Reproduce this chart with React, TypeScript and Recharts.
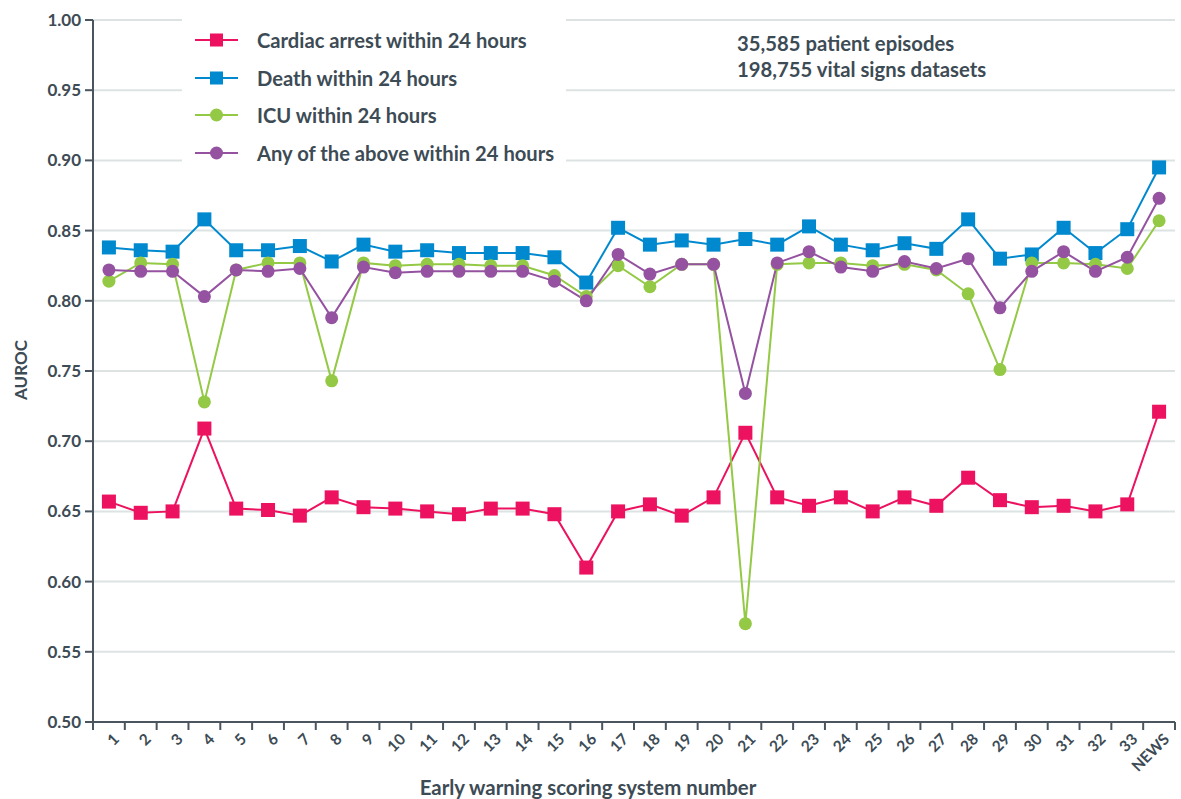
import React from "react";
import { CartesianGrid, Legend, Line, LineChart, XAxis, YAxis } from "recharts";

const categories = [
  "1", "2", "3", "4", "5", "6", "7", "8", "9", "10", "11", "12", "13", "14", "15", "16", "17",
  "18", "19", "20", "21", "22", "23", "24", "25", "26", "27", "28", "29", "30", "31", "32", "33", "NEWS",
];

const cardiacArrest = [
  0.657, 0.649, 0.650, 0.709, 0.652, 0.651, 0.647, 0.660, 0.653, 0.652, 0.650, 0.648, 0.652, 0.652, 0.648, 0.610, 0.650,
  0.655, 0.647, 0.660, 0.706, 0.660, 0.654, 0.660, 0.650, 0.660, 0.654, 0.674, 0.658, 0.653, 0.654, 0.650, 0.655, 0.721,
];

const death = [
  0.838, 0.836, 0.835, 0.858, 0.836, 0.836, 0.839, 0.828, 0.840, 0.835, 0.836, 0.834, 0.834, 0.834, 0.831, 0.813, 0.852,
  0.840, 0.843, 0.840, 0.844, 0.840, 0.853, 0.840, 0.836, 0.841, 0.837, 0.858, 0.830, 0.833, 0.852, 0.834, 0.851, 0.895,
];

const icu = [
  0.814, 0.827, 0.826, 0.728, 0.822, 0.827, 0.827, 0.743, 0.827, 0.825, 0.826, 0.826, 0.825, 0.825, 0.818, 0.803, 0.825,
  0.810, 0.826, 0.826, 0.570, 0.826, 0.827, 0.827, 0.825, 0.826, 0.822, 0.805, 0.751, 0.827, 0.827, 0.826, 0.823, 0.857,
];

const anyOfAbove = [
  0.822, 0.821, 0.821, 0.803, 0.822, 0.821, 0.823, 0.788, 0.824, 0.820, 0.821, 0.821, 0.821, 0.821, 0.814, 0.800, 0.833,
  0.819, 0.826, 0.826, 0.734, 0.827, 0.835, 0.824, 0.821, 0.828, 0.823, 0.830, 0.795, 0.821, 0.835, 0.821, 0.831, 0.873,
];

const yTicks = [0.5, 0.55, 0.6, 0.65, 0.7, 0.75, 0.8, 0.85, 0.9, 0.95, 1.0];

const data = categories.map((name, i) => ({
  name,
  cardiac: cardiacArrest[i],
  death: death[i],
  icu: icu[i],
  any: anyOfAbove[i],
}));

const PINK = "#ec125f";
const BLUE = "#0089cf";
const GREEN = "#94c946";
const PURPLE = "#9452a0";
const TEXT = "#3d4b55";
const AXIS = "#4a5560";
const GRID = "#dde3e3";
const FONT = "Lato, 'Open Sans', sans-serif";

const PLOT_LEFT = 93;
const PLOT_RIGHT = 1175;
const PLOT_BOTTOM = 722;
const STEP = (PLOT_RIGHT - PLOT_LEFT) / categories.length;

const series = [
  { key: "cardiac", name: "Cardiac arrest within 24 hours", color: PINK, shape: "square" },
  { key: "death", name: "Death within 24 hours", color: BLUE, shape: "square" },
  { key: "icu", name: "ICU within 24 hours", color: GREEN, shape: "circle" },
  { key: "any", name: "Any of the above within 24 hours", color: PURPLE, shape: "circle" },
];

function makeDot(color: string, shape: string) {
  return (props: any) => {
    const { cx, cy, index } = props;
    if (cx == null || cy == null) return <g key={index} />;
    if (shape === "square") {
      return <rect key={index} x={cx - 7} y={cy - 7} width={14} height={14} fill={color} />;
    }
    return <circle key={index} cx={cx} cy={cy} r={6.5} fill={color} />;
  };
}

function XTick(props: any) {
  const { x, payload, index } = props;
  const last = index === categories.length - 1;
  return (
    <g>
      <line x1={x - STEP / 2} x2={x - STEP / 2} y1={PLOT_BOTTOM} y2={PLOT_BOTTOM + 8} stroke={AXIS} strokeWidth={2} />
      {last && (
        <line x1={x + STEP / 2} x2={x + STEP / 2} y1={PLOT_BOTTOM} y2={PLOT_BOTTOM + 8} stroke={AXIS} strokeWidth={2} />
      )}
      <text
        transform={`translate(${x + 7},${PLOT_BOTTOM + 14}) rotate(-45)`}
        textAnchor="end"
        dominantBaseline="central"
        fontFamily={FONT}
        fontWeight={700}
        fontSize={15.5}
        fill={TEXT}
      >
        {payload.value}
      </text>
    </g>
  );
}

function LegendBox() {
  return (
    <div style={{ background: "#fff", width: 384, height: 150, paddingTop: 3, boxSizing: "border-box" }}>
      {series.map((s) => (
        <div key={s.key} style={{ display: "flex", alignItems: "center", height: 37.7 }}>
          <svg width={75} height={20} style={{ flex: "none" }}>
            <line x1={13} x2={56} y1={10} y2={10} stroke={s.color} strokeWidth={2} />
            {s.shape === "square" ? (
              <rect x={28} y={3.5} width={13} height={13} fill={s.color} />
            ) : (
              <circle cx={34.5} cy={10} r={6.5} fill={s.color} />
            )}
          </svg>
          <span style={{ fontFamily: FONT, fontWeight: 700, fontSize: 20.2, color: TEXT, whiteSpace: "nowrap" }}>
            {s.name}
          </span>
        </div>
      ))}
    </div>
  );
}

export default function App() {
  return (
    <div style={{ position: "absolute", left: 0, top: 0, width: 1181, height: 799, background: "#fff" }}>
      <LineChart width={1181} height={799} data={data} margin={{ top: 20, right: 6, left: 0, bottom: 0 }}>
        <CartesianGrid vertical={false} stroke={GRID} strokeWidth={2} />
        <XAxis
          dataKey="name"
          interval={0}
          height={77}
          padding={{ left: STEP / 2, right: STEP / 2 }}
          axisLine={{ stroke: AXIS, strokeWidth: 2 }}
          tickLine={false}
          tick={<XTick />}
        />
        <YAxis
          width={93}
          domain={[0.5, 1]}
          ticks={yTicks}
          interval={0}
          tickFormatter={(v: number) => v.toFixed(2)}
          axisLine={{ stroke: AXIS, strokeWidth: 2 }}
          tickLine={{ stroke: AXIS, strokeWidth: 2 }}
          tickSize={8}
          tickMargin={4}
          tick={{ fontFamily: FONT, fontWeight: 700, fontSize: 17, fill: TEXT }}
        />
        <Legend
          layout="vertical"
          align="center"
          verticalAlign="middle"
          content={() => <LegendBox />}
          wrapperStyle={{ position: "absolute", left: 182, top: 18, width: 384, height: 150 }}
        />
        {series.map((s) => (
          <Line
            key={s.key}
            type="linear"
            dataKey={s.key}
            name={s.name}
            stroke={s.color}
            strokeWidth={2}
            dot={makeDot(s.color, s.shape)}
            activeDot={false}
            isAnimationActive={false}
          />
        ))}
      </LineChart>
      <div
        style={{
          position: "absolute",
          left: 737,
          top: 30,
          fontFamily: FONT,
          fontWeight: 700,
          fontSize: 20.3,
          lineHeight: "26px",
          color: TEXT,
        }}
      >
        <div>35,585 patient episodes</div>
        <div>198,755 vital signs datasets</div>
      </div>
      <div
        style={{
          position: "absolute",
          left: 20,
          top: 370,
          transform: "translate(-50%, -50%) rotate(-90deg)",
          fontFamily: FONT,
          fontWeight: 700,
          fontSize: 17,
          color: TEXT,
        }}
      >
        AUROC
      </div>
      <div
        style={{
          position: "absolute",
          left: 588,
          top: 787,
          transform: "translate(-50%, -50%)",
          fontFamily: FONT,
          fontWeight: 700,
          fontSize: 20.4,
          color: TEXT,
          whiteSpace: "nowrap",
        }}
      >
        Early warning scoring system number
      </div>
    </div>
  );
}
